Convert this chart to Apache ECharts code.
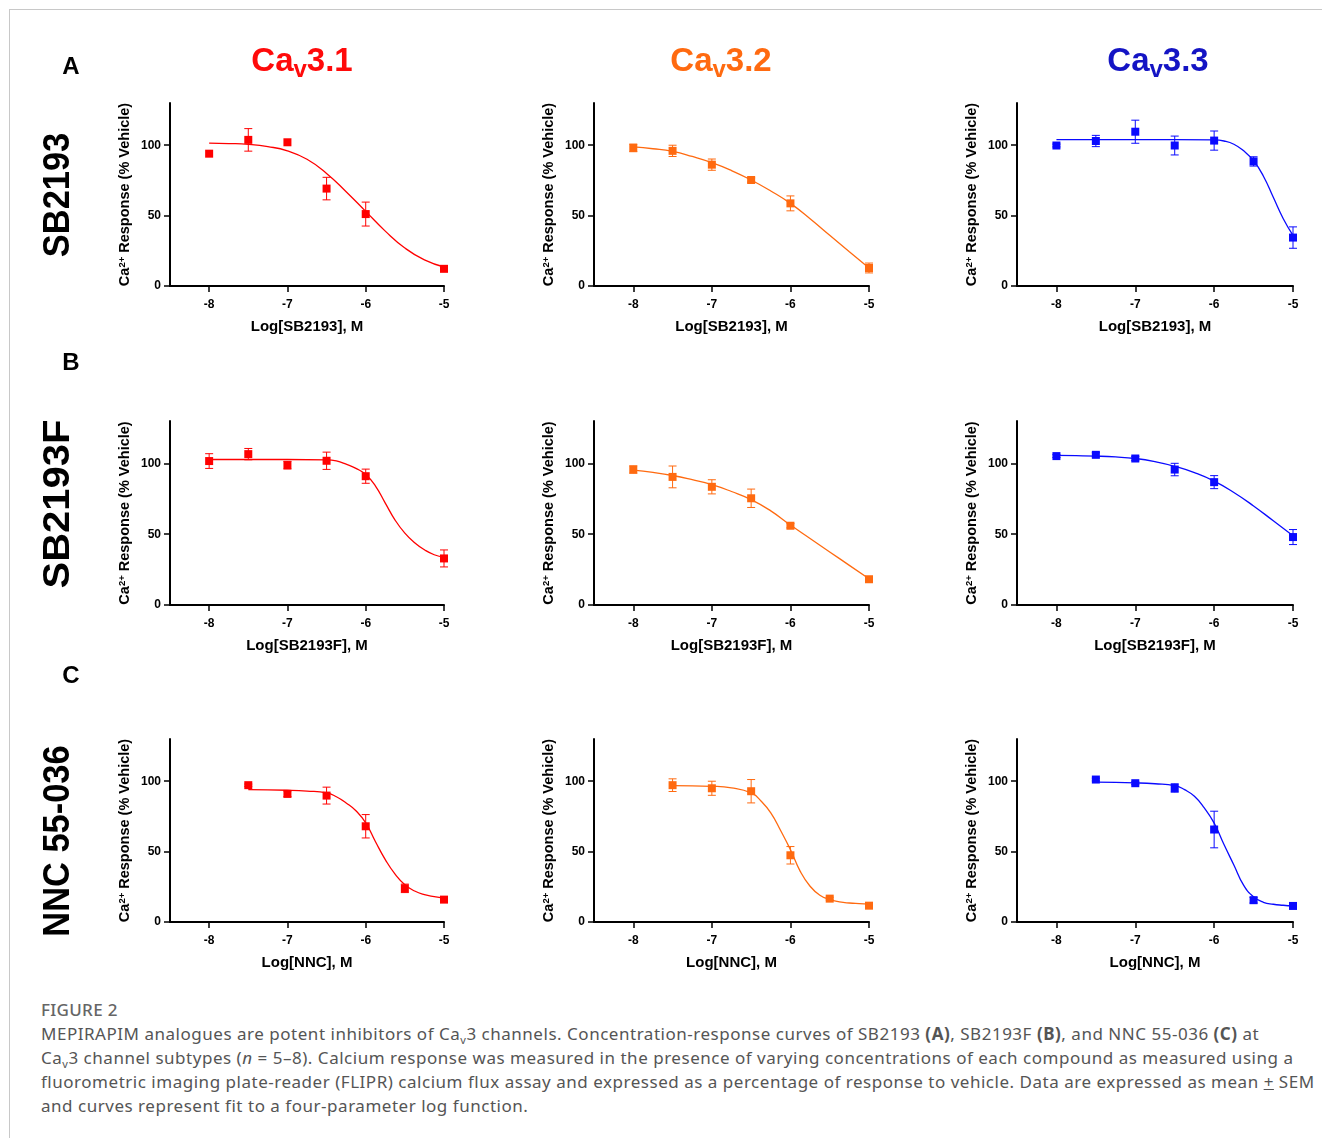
<!DOCTYPE html>
<html>
<head>
<meta charset="utf-8">
<title>Figure 2</title>
<script src="https://cdn.jsdelivr.net/npm/echarts@6/dist/echarts.min.js"></script>
<style>
  html, body { margin: 0; padding: 0; width: 1322px; height: 1138px; overflow: hidden; background: #fff; }
  #frame { position: absolute; left: 9px; top: 9px; width: 1400px; height: 1300px;
           border-left: 1px solid #c8c8c8; border-top: 1px solid #c8c8c8; }
  #chart { position: absolute; left: 0; top: 0; width: 1322px; height: 990px; }
  #caption { position: absolute; left: 41px; top: 998px; font-family: "Noto Sans", sans-serif;
             font-size: 17px; line-height: 24px; color: #555; white-space: nowrap; letter-spacing: 0.52px; }
  #caption .fig { font-weight: 500; color: #666; letter-spacing: 0.3px; }
  #caption sub { font-size: 11px; line-height: 0; }
</style>
</head>
<body>
<div id="frame"></div>
<div id="chart"></div>
<div id="caption">
  <div class="fig">FIGURE 2</div>
  <div>MEPIRAPIM analogues are potent inhibitors of Ca<sub>v</sub>3 channels. Concentration-response curves of SB2193 <b>(A)</b>, SB2193F <b>(B)</b>, and NNC 55-036 <b>(C)</b> at</div>
  <div>Ca<sub>v</sub>3 channel subtypes (<i>n</i> = 5–8). Calcium response was measured in the presence of varying concentrations of each compound as measured using a</div>
  <div>fluorometric imaging plate-reader (FLIPR) calcium flux assay and expressed as a percentage of response to vehicle. Data are expressed as mean <u>+</u> SEM</div>
  <div>and curves represent fit to a four-parameter log function.</div>
</div>
<script>
// log concentrations used in the assay
const doses = [-8, -7.5, -7, -6.5, -6, -5.5, -5];
const xTicks = [-8, -7, -6, -5];
const yTicks = [0, 50, 100];

// row A: SB2193 (mean, sem) for Cav3.1 / 3.2 / 3.3
const a31Mean = [94.0, 103.8, 102.1, 69.2, 51.1, null, 12.2];
const a31Sem = [0, 8, 0, 8, 8.5, 0, 0];
const a32Mean = [98.1, 96.0, 86.2, 75.3, 58.7, null, 12.8];
const a32Sem = [2.7, 4, 4, 1.5, 5.3, 0, 3.5];
const a33Mean = [99.8, 103.0, 109.6, 99.8, 103.3, 88.5, 34.4];
const a33Sem = [1, 4, 8.2, 6.7, 6.8, 3.3, 7.6];

// row B: SB2193F
const b31Mean = [101.7, 106.6, 98.8, 101.9, 91.0, null, 32.9];
const b31Sem = [5.2, 4, 2.7, 6.1, 5, 0, 6];
const b32Mean = [95.7, 90.5, 83.5, 75.4, 56.0, null, 18.2];
const b32Sem = [2.6, 7.7, 5, 6.5, 1.5, 0, 1];
const b33Mean = [105.2, 106.1, 103.5, 95.7, 86.8, null, 48.0];
const b33Sem = [1, 1.5, 1.5, 4.4, 4.6, 0, 5.3];

// row C: NNC 55-036
const c31Mean = [null, 97.2, 91.0, 89.8, 68.0, 23.9, 15.9];
const c31Sem = [0, 0.8, 2, 6, 8.3, 3, 0.5];
const c32Mean = [null, 97.2, 95.0, 92.9, 47.4, 16.6, 11.6];
const c32Sem = [0, 4.5, 5, 8.3, 6.2, 1, 0.5];
const c33Mean = [null, 101.2, 98.6, 95.2, 65.7, 15.5, 11.4];
const c33Sem = [0, 1, 1, 3, 13, 2, 0.5];

// fitted curves
const fitX = [-8, -7.75, -7.5, -7.25, -7, -6.75, -6.5, -6.25, -6, -5.75, -5.5, -5.25, -5];
const a31Fit = [101.5, 101.2, 100.6, 99, 96, 90, 80, 67, 53, 39, 27, 18.5, 13.5];
const a32Fit = [98.8, 97.5, 95.6, 92.0, 87.6, 82.0, 75.3, 67.5, 58.7, 47.8, 36.0, 24.3, 12.8];
const a33FitX = [-8, -7, -6.5, -6, -5.875, -5.75, -5.625, -5.5, -5.375, -5.25, -5.125, -5];
const a33Fit = [104, 104, 104, 103.8, 103, 100.7, 96, 89, 78, 63, 48, 36];
const b31FitX = [-8, -7, -6.5, -6.375, -6.25, -6.125, -6, -5.875, -5.75, -5.625, -5.5, -5.375, -5.25, -5.125, -5];
const b31Fit = [102.8, 102.8, 102.6, 101.8, 99.5, 96.5, 92.2, 84, 72, 60, 50.8, 44, 39, 35.5, 33.8];
const b32Fit = [95.3, 93.7, 91.5, 88.5, 85, 80.2, 74.5, 66.5, 56.5, 47, 37.5, 28, 18.5];
const b33Fit = [105.7, 105.5, 105.2, 104.6, 103.5, 101.3, 98, 93.5, 87.5, 79.5, 70, 59.5, 49];
const cFitX = [-7.5, -7, -6.75, -6.5, -6.375, -6.25, -6.125, -6, -5.875, -5.75, -5.625, -5.5, -5.375, -5.25, -5.125, -5];
const c31Fit = [94.1, 93.6, 93, 91.7, 89, 84.6, 79, 70.4, 57, 44.3, 34, 26.5, 22, 19.4, 18, 17];
const c32Fit = [96.9, 96.4, 95.3, 91.7, 86, 77.5, 65, 51.4, 36, 25.4, 19, 15.9, 14.3, 13.5, 13.1, 12.8];
const c33Fit = [99.3, 98.8, 98.2, 96.9, 94, 89.3, 81, 70.2, 55, 40.5, 26, 17.9, 14, 12.6, 11.9, 11.4];

const compounds = ['SB2193', 'SB2193F', 'NNC 55-036'];
const xNames = ['Log[SB2193], M', 'Log[SB2193F], M', 'Log[NNC], M'];
const channels = ['3.1', '3.2', '3.3'];
const panelLetters = ['A', 'B', 'C'];

const RED = '#ff0000', ORANGE = '#ff6a10', BLUE = '#0a0aff';
const colColors = [RED, ORANGE, BLUE];
const titleColors = ['#ff0a0a', '#ff6a10', '#1414c4'];
const FONT = '"Liberation Sans", Arial, sans-serif';

const panels = [
  [a31Mean, a31Sem, fitX, a31Fit], [a32Mean, a32Sem, fitX, a32Fit], [a33Mean, a33Sem, a33FitX, a33Fit],
  [b31Mean, b31Sem, b31FitX, b31Fit], [b32Mean, b32Sem, fitX, b32Fit], [b33Mean, b33Sem, fitX, b33Fit],
  [c31Mean, c31Sem, cFitX, c31Fit], [c32Mean, c32Sem, cFitX, c32Fit], [c33Mean, c33Sem, cFitX, c33Fit]
];

const gridLeft = [170, 594, 1017];
const gridWidth = [274, 275, 276];
const gridTop = [103, 421, 739];
const gridHeight = [183, 184, 183];

function errorBars(color) {
  return function (params, api) {
    const x = api.value(0);
    const hi = api.coord([x, api.value(2)]);
    const lo = api.coord([x, api.value(1)]);
    const w = 4;
    const st = { stroke: color, lineWidth: 1 };
    return {
      type: 'group',
      children: [
        { type: 'line', shape: { x1: hi[0], y1: hi[1], x2: lo[0], y2: lo[1] }, style: st },
        { type: 'line', shape: { x1: hi[0] - w, y1: hi[1], x2: hi[0] + w, y2: hi[1] }, style: st },
        { type: 'line', shape: { x1: lo[0] - w, y1: lo[1], x2: lo[0] + w, y2: lo[1] }, style: st }
      ]
    };
  };
}

let grid = [], xAxis = [], yAxis = [], series = [];
for (let r = 0; r < 3; r++) {
  for (let c = 0; c < 3; c++) {
    const i = r * 3 + c;
    const color = colColors[c];
    const [mean, sem, fx, fy] = panels[i];
    grid.push({ left: gridLeft[c], top: gridTop[r], width: gridWidth[c], height: gridHeight[r] });
    xAxis.push({
      gridIndex: i, type: 'value', min: -8.5, max: -5,
      axisLine: { show: true, onZero: false, lineStyle: { color: '#000', width: 2 } },
      axisTick: { show: true, length: 6, customValues: xTicks, lineStyle: { color: '#000', width: 1.5 } },
      axisLabel: { customValues: xTicks, color: '#000', fontFamily: FONT, fontWeight: 'bold', fontSize: 12, margin: 13 },
      splitLine: { show: false },
      name: xNames[r], nameLocation: 'middle', nameGap: 33,
      nameTextStyle: { color: '#000', fontFamily: FONT, fontWeight: 'bold', fontSize: 15 }
    });
    yAxis.push({
      gridIndex: i, type: 'value', min: 0, max: 130,
      axisLine: { show: true, lineStyle: { color: '#000', width: 2 } },
      axisTick: { show: true, length: 6, customValues: yTicks, lineStyle: { color: '#000', width: 1.5 } },
      axisLabel: { customValues: yTicks, color: '#000', fontFamily: FONT, fontWeight: 'bold', fontSize: 12, margin: 9 },
      splitLine: { show: false },
      name: '{n|Ca}{s|2+}{n| Response (% Vehicle)}', nameLocation: 'middle', nameGap: 37,
      nameTextStyle: {
        color: '#000',
        rich: {
          n: { fontFamily: FONT, fontWeight: 'bold', fontSize: 14.5, lineHeight: 16 },
          s: { fontFamily: FONT, fontWeight: 'bold', fontSize: 9.5, lineHeight: 9, verticalAlign: 'top' }
        }
      }
    });
    series.push({
      type: 'line', xAxisIndex: i, yAxisIndex: i, smooth: 0.5,
      showSymbol: false, symbol: 'none', silent: true,
      lineStyle: { color: color, width: 1.3 },
      data: fx.map((x, k) => [x, fy[k]]), z: 2
    });
    series.push({
      type: 'custom', xAxisIndex: i, yAxisIndex: i, renderItem: errorBars(color),
      encode: { x: 0, y: [1, 2] }, silent: true, z: 3,
      data: doses.map((d, k) => (mean[k] == null || sem[k] === 0) ? null : [d, mean[k] - sem[k], mean[k] + sem[k]])
        .filter(Boolean)
    });
    series.push({
      type: 'scatter', xAxisIndex: i, yAxisIndex: i, symbol: 'rect', symbolSize: 8,
      itemStyle: { color: color, opacity: 1 }, z: 4,
      data: doses.map((d, k) => [d, mean[k]]).filter(p => p[1] != null)
    });
  }
}

const titleX = [302, 721, 1158];
const labelY = [195, 504, 841];
const labelScale = [0.93, 1.08, 0.93];
const letterY = [67, 363, 676];
let graphic = [];
for (let c = 0; c < 3; c++) {
  graphic.push({
    type: 'text', x: titleX[c], y: 62,
    style: {
      text: '{a|Ca}{s|v}{a|' + channels[c] + '}', fill: titleColors[c], align: 'center', verticalAlign: 'middle',
      rich: {
        a: { fontFamily: FONT, fontWeight: 'bold', fontSize: 33, lineHeight: 40 },
        s: { fontFamily: FONT, fontWeight: 'bold', fontSize: 24, lineHeight: 16, verticalAlign: 'bottom' }
      }
    }
  });
}
for (let r = 0; r < 3; r++) {
  graphic.push({
    type: 'text', x: 71, y: letterY[r],
    style: { text: panelLetters[r], fill: '#000', align: 'center', verticalAlign: 'middle',
             font: 'bold 24px ' + FONT }
  });
  graphic.push({
    type: 'text', x: 59, y: labelY[r], rotation: Math.PI / 2, scaleX: labelScale[r],
    style: { text: compounds[r], fill: '#000', align: 'center', verticalAlign: 'middle',
             font: 'bold 37px ' + FONT }
  });
}

const chart = echarts.init(document.getElementById('chart'));
chart.setOption({
  animation: false,
  backgroundColor: 'transparent',
  grid: grid,
  xAxis: xAxis,
  yAxis: yAxis,
  series: series,
  graphic: graphic
});
</script>
</body>
</html>
